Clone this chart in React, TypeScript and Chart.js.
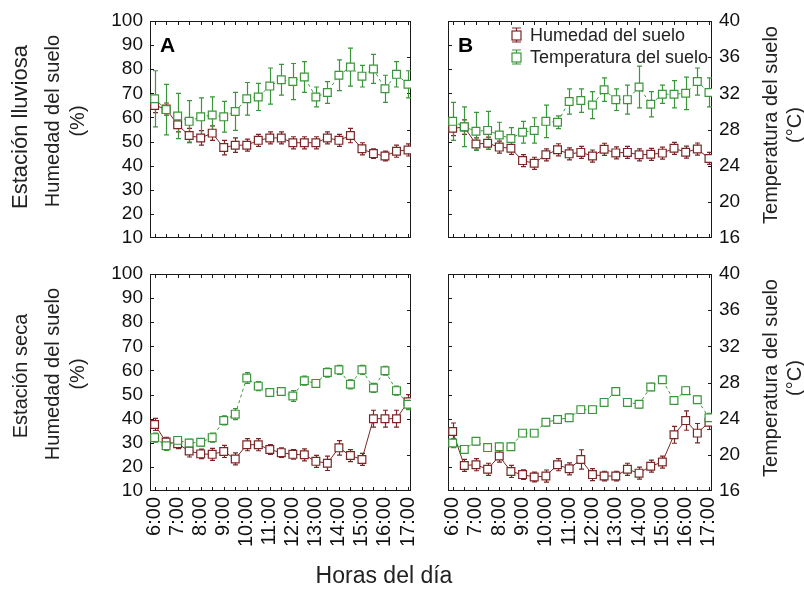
import React, { useEffect, useRef } from 'react';
import { Chart, registerables } from 'chart.js';

Chart.register(...registerables);

const W = 804;
const H = 590;
const FONT = 'Arial, "Liberation Sans", sans-serif';
const RED = '#7a2626';
const GREEN = '#3a963a';
const INK = '#1a1a1a';

// ---- data ----
const times = ['6:00', '6:30', '7:00', '7:30', '8:00', '8:30', '9:00', '9:30', '10:00', '10:30', '11:00', '11:30',
  '12:00', '12:30', '13:00', '13:30', '14:00', '14:30', '15:00', '15:30', '16:00', '16:30', '17:00'];
const hourLabels = ['6:00', '7:00', '8:00', '9:00', '10:00', '11:00', '12:00', '13:00', '14:00', '15:00', '16:00', '17:00'];
const seriesLabels = ['Humedad del suelo', 'Temperatura del suelo'];

// Estación lluviosa - A
const rainyAHum = [65, 63.5, 57, 52.5, 51.5, 53.5, 47.5, 48.5, 48.5, 50.5, 51.5, 51.5, 49.5, 49.5, 49.5, 51.5, 50.5, 52.5, 47, 45, 44, 46, 46.5];
const rainyAHumErr = [3, 2.5, 3, 3, 3, 3, 3, 3, 2.5, 2.5, 2.5, 2.5, 2.5, 2.5, 2.5, 2.5, 2.5, 3, 2.5, 2, 2, 2.5, 2.5];
const rainyATemp = [31.4, 30.2, 29.5, 28.9, 29.4, 29.6, 29.4, 30.0, 31.4, 31.6, 32.8, 33.5, 33.3, 33.8, 31.6, 32.1, 34.0, 34.9, 33.9, 34.7, 32.5, 34.1, 33.0];
const rainyATempErr = [3.1, 2.8, 2.5, 2.3, 2.1, 2.0, 1.7, 2.1, 1.8, 1.5, 2.0, 1.7, 2.0, 1.7, 1.1, 1.2, 1.7, 2.1, 1.2, 1.6, 1.5, 1.4, 1.5];

// Estación lluviosa - B
const rainyBHum = [55.5, 56, 49, 49.3, 47.7, 47.2, 42.1, 41, 44.5, 46.6, 44.9, 45.5, 44, 46.8, 45.3, 45.5, 44.5, 44.7, 45.2, 47.2, 45.6, 46.9, 43];
const rainyBHumErr = [3, 3, 2.5, 2.5, 2.5, 2.5, 2.5, 2.5, 2.5, 2.5, 2.5, 2.5, 2.5, 2.5, 2.5, 2.5, 2.5, 2.5, 2.5, 2.5, 2.5, 2.5, 2.5];
const rainyBTemp = [28.9, 28.3, 27.8, 27.9, 27.4, 27.0, 27.7, 27.9, 28.9, 28.8, 31.1, 31.2, 30.7, 32.4, 31.3, 31.3, 32.7, 30.8, 31.9, 31.9, 32.0, 33.3, 32.1];
const rainyBTempErr = [2.1, 2.2, 2.1, 2.1, 1.4, 1.2, 1.2, 1.4, 1.8, 0.7, 1.4, 1.3, 1.5, 1.3, 1.2, 1.6, 2.3, 1.4, 1.0, 1.5, 1.8, 1.5, 1.6];

// Estación seca - A
const dryAHum = [37.6, 30.3, 29.6, 26.6, 25.4, 25.2, 26.4, 23.3, 29.2, 29.2, 27.2, 25.9, 25.2, 25.0, 22.3, 21.5, 27.9, 24.7, 23.1, 40, 40, 40, 47];
const dryAHumErr = [2.5, 2, 2, 2.5, 2, 2.5, 2.5, 2.5, 2.5, 2.5, 2, 2, 2, 2.5, 2.5, 3, 3, 2.5, 2.5, 3.5, 3.5, 3.5, 3];
const dryATemp = [21.9, 21.0, 21.6, 21.3, 21.4, 21.9, 23.8, 24.5, 28.5, 27.6, 26.9, 27.0, 26.5, 28.2, 27.9, 29.1, 29.4, 27.8, 29.4, 27.4, 29.3, 27.1, 25.6];
const dryATempErr = [0.5, 0.5, 0.4, 0.4, 0.4, 0.5, 0.5, 0.6, 0.6, 0.5, 0.4, 0.4, 0.6, 0.5, 0.4, 0.5, 0.5, 0.5, 0.5, 0.5, 0.5, 0.5, 0.6];

// Estación seca - B
const dryBHum = [34.7, 20.6, 20.9, 19.0, 24.5, 18.1, 16.8, 15.8, 16.2, 20.9, 19.2, 23.1, 16.8, 16.2, 16.2, 19.0, 17.4, 20.3, 22.0, 33.3, 39.2, 34.0, 38.5];
const dryBHumErr = [3.5, 2.5, 2.5, 2.5, 2.5, 2.5, 2, 2, 2.5, 2.5, 2.5, 4, 2.5, 2, 2, 2.5, 2.5, 2.5, 2.5, 3.5, 4, 4, 3];
const dryBTemp = [21.3, 20.6, 21.5, 20.8, 20.9, 20.9, 22.4, 22.4, 23.6, 23.9, 24.1, 25.0, 25.0, 25.8, 27.0, 25.8, 25.6, 27.5, 28.3, 26.0, 27.1, 26.1, 24.1];
const dryBTempErr = [0.5, 0.4, 0.4, 0.4, 0.4, 0.4, 0.4, 0.4, 0.4, 0.4, 0.4, 0.4, 0.4, 0.4, 0.4, 0.4, 0.4, 0.4, 0.4, 0.4, 0.4, 0.4, 0.5];

const toHours = (t: string) => {
  const [h, m] = t.split(':').map(Number);
  return h + m / 60;
};
const hours = times.map(toHours);

type Area = { left: number; right: number; top: number; bottom: number };
type PanelSpec = {
  key: string;
  area: Area;
  hum: number[];
  humErr: number[];
  temp: number[];
  tempErr: number[];
  showX: boolean;
  showLeft: boolean;
  showRight: boolean;
  legend: boolean;
  letter: string;
};

const PANELS: PanelSpec[] = [
  { key: 'ra', area: { left: 150, right: 411, top: 21, bottom: 238 }, hum: rainyAHum, humErr: rainyAHumErr, temp: rainyATemp, tempErr: rainyATempErr, showX: false, showLeft: true, showRight: false, legend: false, letter: 'A' },
  { key: 'rb', area: { left: 448, right: 712, top: 21, bottom: 238 }, hum: rainyBHum, humErr: rainyBHumErr, temp: rainyBTemp, tempErr: rainyBTempErr, showX: false, showLeft: false, showRight: true, legend: true, letter: 'B' },
  { key: 'da', area: { left: 150, right: 411, top: 274, bottom: 491 }, hum: dryAHum, humErr: dryAHumErr, temp: dryATemp, tempErr: dryATempErr, showX: true, showLeft: true, showRight: false, legend: false, letter: '' },
  { key: 'db', area: { left: 448, right: 712, top: 274, bottom: 491 }, hum: dryBHum, humErr: dryBHumErr, temp: dryBTemp, tempErr: dryBTempErr, showX: true, showLeft: false, showRight: true, legend: false, letter: '' },
];

const framePlugin = {
  id: 'frameTicks',
  beforeDatasetsDraw(chart: any) {
    const { ctx, chartArea: a, scales } = chart;
    ctx.save();
    ctx.strokeStyle = INK;
    ctx.lineWidth = 1;
    ctx.strokeRect(a.left + 0.5, a.top + 0.5, a.right - a.left - 1, a.bottom - a.top - 1);
    const L = 4;
    ctx.beginPath();
    scales.x.ticks.forEach((t: any) => {
      const p = Math.round(scales.x.getPixelForValue(t.value)) + 0.5;
      ctx.moveTo(p, a.bottom);
      ctx.lineTo(p, a.bottom - L);
      ctx.moveTo(p, a.top);
      ctx.lineTo(p, a.top + L);
    });
    scales.y.ticks.forEach((t: any) => {
      if (t.value <= scales.y.min || t.value >= scales.y.max) return;
      const p = Math.round(scales.y.getPixelForValue(t.value)) + 0.5;
      ctx.moveTo(a.left, p);
      ctx.lineTo(a.left + L, p);
    });
    scales.y2.ticks.forEach((t: any) => {
      if (t.value <= scales.y2.min || t.value >= scales.y2.max) return;
      const p = Math.round(scales.y2.getPixelForValue(t.value)) + 0.5;
      ctx.moveTo(a.right, p);
      ctx.lineTo(a.right - L, p);
    });
    ctx.stroke();
    ctx.restore();
  },
};

const errorBarPlugin = {
  id: 'errorBars',
  beforeDatasetsDraw(chart: any) {
    const ctx = chart.ctx;
    chart.data.datasets.forEach((ds: any, i: number) => {
      const meta = chart.getDatasetMeta(i);
      const ys = chart.scales[ds.yAxisID];
      ctx.save();
      ctx.strokeStyle = ds.borderColor;
      ctx.lineWidth = 1.2;
      ctx.beginPath();
      meta.data.forEach((pt: any, j: number) => {
        const v = ds.data[j].y;
        const e = ds.errors[j];
        const yt = ys.getPixelForValue(v + e);
        const yb = ys.getPixelForValue(v - e);
        const x = Math.round(pt.x) + 0.5;
        ctx.moveTo(x, yt);
        ctx.lineTo(x, yb);
        ctx.moveTo(x - 2.5, yt);
        ctx.lineTo(x + 2.5, yt);
        ctx.moveTo(x - 2.5, yb);
        ctx.lineTo(x + 2.5, yb);
      });
      ctx.stroke();
      ctx.restore();
    });
  },
};

const makeOverlayPlugin = (spec: PanelSpec) => ({
  id: 'panelOverlay',
  afterDatasetsDraw(chart: any) {
    const { ctx, chartArea: a } = chart;
    ctx.save();
    if (spec.letter) {
      ctx.font = `bold 21px ${FONT}`;
      ctx.fillStyle = '#000';
      ctx.textAlign = 'left';
      ctx.textBaseline = 'alphabetic';
      ctx.fillText(spec.letter, a.left + 10, a.top + 31);
    }
    if (spec.legend) {
      [0, 1].forEach((di, row) => {
        const ds = chart.data.datasets.find((d: any) => d.label === seriesLabels[di]);
        const y = a.top + 14 + row * 22;
        const x = a.left + 68;
        ctx.strokeStyle = ds.borderColor;
        ctx.lineWidth = 1.2;
        ctx.beginPath();
        ctx.moveTo(x + 0.5, y - 7);
        ctx.lineTo(x + 0.5, y + 7);
        ctx.moveTo(x - 4, y - 7);
        ctx.lineTo(x + 5, y - 7);
        ctx.moveTo(x - 4, y + 7);
        ctx.lineTo(x + 5, y + 7);
        ctx.stroke();
        ctx.fillStyle = '#fff';
        ctx.fillRect(x - 4, y - 4, 9, 9);
        ctx.strokeRect(x - 4, y - 4, 9, 9);
        ctx.fillStyle = '#222';
        ctx.font = `18px ${FONT}`;
        ctx.textAlign = 'left';
        ctx.textBaseline = 'middle';
        ctx.fillText(ds.label, a.left + 82, y + 1);
      });
    }
    ctx.restore();
  },
});

const tickFont = { family: FONT, size: 19 };
const xTickFont = { family: FONT, size: 20 };

function buildConfig(spec: PanelSpec): any {
  const a = spec.area;
  const mk = (vals: number[]) => vals.map((v, i) => ({ x: hours[i], y: v }));
  return {
    type: 'line',
    data: {
      datasets: [
        {
          label: seriesLabels[0],
          yAxisID: 'y',
          data: mk(spec.hum),
          errors: spec.humErr,
          borderColor: RED,
          borderWidth: 1,
          pointStyle: 'rect',
          pointRadius: 5.5,
          pointBorderWidth: 1.2,
          pointBorderColor: RED,
          pointBackgroundColor: '#fff',
          tension: 0,
          order: 1,
        },
        {
          label: seriesLabels[1],
          yAxisID: 'y2',
          data: mk(spec.temp),
          errors: spec.tempErr,
          borderColor: GREEN,
          borderWidth: 1,
          borderDash: [3, 3],
          pointStyle: 'rect',
          pointRadius: 5.5,
          pointBorderWidth: 1.2,
          pointBorderColor: GREEN,
          pointBackgroundColor: '#fff',
          tension: 0,
          order: 0,
        },
      ],
    },
    options: {
      responsive: false,
      animation: false,
      events: [],
      devicePixelRatio: 1,
      layout: { padding: { top: a.top, left: 0, right: 0, bottom: 0 } },
      plugins: { legend: { display: false }, tooltip: { enabled: false }, title: { display: false } },
      scales: {
        x: {
          type: 'linear',
          position: 'bottom',
          min: 5.8,
          max: 17.13,
          bounds: 'data',
          grid: { display: false, drawTicks: false },
          border: { display: false },
          afterBuildTicks: (s: any) => { s.ticks = hours.map((v) => ({ value: v })); },
          ticks: {
            display: spec.showX,
            autoSkip: false,
            minRotation: 90,
            maxRotation: 90,
            padding: 6,
            color: '#111',
            font: xTickFont,
            callback: (v: number) => {
              const idx = hourLabels.findIndex((l) => Math.abs(toHours(l) - v) < 1e-6);
              return idx >= 0 ? hourLabels[idx] : '';
            },
          },
          afterFit: (s: any) => { s.height = H - a.bottom; },
        },
        y: {
          type: 'linear',
          position: 'left',
          min: 10,
          max: 100,
          grid: { display: false, drawTicks: false },
          border: { display: false },
          ticks: { display: spec.showLeft, autoSkip: false, stepSize: 10, padding: 7, color: '#111', font: tickFont },
          afterFit: (s: any) => { s.width = a.left; },
        },
        y2: {
          type: 'linear',
          position: 'right',
          min: 16,
          max: 40,
          grid: { display: false, drawTicks: false },
          border: { display: false },
          ticks: { display: spec.showRight, autoSkip: false, stepSize: 4, padding: 7, color: '#111', font: tickFont },
          afterFit: (s: any) => { s.width = W - a.right; },
        },
      },
    },
    plugins: [framePlugin, errorBarPlugin, makeOverlayPlugin(spec)],
  };
}

function VText(props: { x: number; y: number; text: string; size?: number }) {
  const { x, y, text, size = 20 } = props;
  return (
    <div
      style={{
        position: 'absolute',
        left: x,
        top: y,
        transform: 'translate(-50%, -50%) rotate(-90deg)',
        whiteSpace: 'nowrap',
        fontSize: size,
        lineHeight: 1,
        fontFamily: FONT,
        color: '#222',
      }}
    >
      {text}
    </div>
  );
}

export default function App() {
  const refs = useRef<(HTMLCanvasElement | null)[]>([]);
  useEffect(() => {
    const charts = PANELS.map((p, i) => new Chart(refs.current[i] as HTMLCanvasElement, buildConfig(p)));
    return () => charts.forEach((c) => c.destroy());
  }, []);
  return (
    <div style={{ position: 'fixed', left: 0, top: 0, width: W, height: H, background: '#fff', overflow: 'hidden' }}>
      {PANELS.map((p, i) => (
        <canvas
          key={p.key}
          ref={(el) => { refs.current[i] = el; }}
          width={W}
          height={H}
          style={{ position: 'absolute', left: 0, top: 0, width: W, height: H }}
        />
      ))}
      <VText x={20} y={127} text="Estación lluviosa" size={22} />
      <VText x={52} y={121} text="Humedad del suelo" />
      <VText x={77} y={121} text="(%)" />
      <VText x={20} y={376} text="Estación seca" />
      <VText x={52} y={374} text="Humedad del suelo" />
      <VText x={77} y={374} text="(%)" />
      <VText x={770} y={125} text="Temperatura del suelo" />
      <VText x={794} y={125} text="(°C)" />
      <VText x={770} y={378} text="Temperatura del suelo" />
      <VText x={794} y={378} text="(°C)" />
      <div
        style={{
          position: 'absolute',
          left: 384,
          top: 575,
          transform: 'translate(-50%, -50%)',
          whiteSpace: 'nowrap',
          fontSize: 23,
          lineHeight: 1,
          fontFamily: FONT,
          color: '#222',
        }}
      >
        Horas del día
      </div>
    </div>
  );
}
